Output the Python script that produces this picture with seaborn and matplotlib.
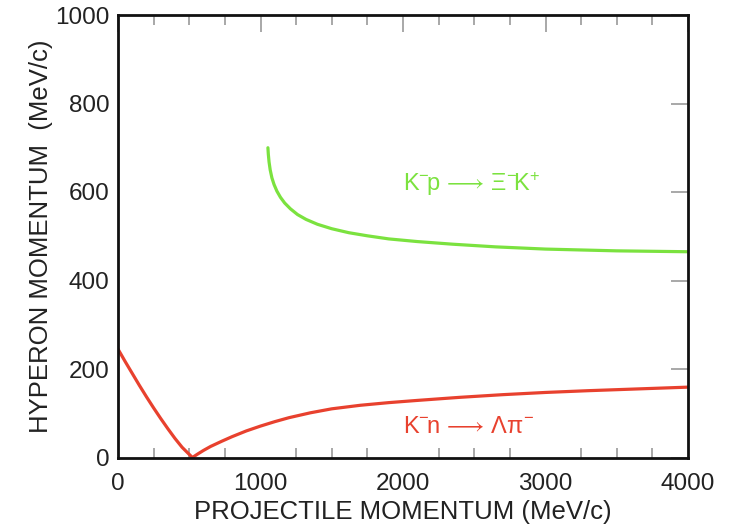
import matplotlib
matplotlib.use("Agg")
import matplotlib.pyplot as plt
from matplotlib.ticker import MultipleLocator
import seaborn as sns
import pandas as pd

# Projectile momentum (MeV/c) and minimum hyperon momentum (MeV/c) for each reaction
lambda_p = [0, 50, 100, 150, 200, 250, 300, 350, 400, 450, 522,
            560, 600, 650, 730, 800, 900, 1000, 1100, 1200, 1350, 1500,
            1700, 1900, 2100, 2400, 2700, 3000, 3300, 3650, 4000]
lambda_y = [245, 217, 190, 163, 137, 112, 88, 65, 43, 23, 0,
            8, 16, 25, 37, 47, 60, 71, 81, 90, 101, 110,
            118, 124, 129, 136, 142, 147, 151, 155, 159]

xi_p = [1052, 1055, 1060, 1068, 1080, 1095, 1115, 1140, 1170, 1210, 1260,
        1320, 1400, 1500, 1620, 1750, 1900, 2100, 2350, 2650, 3000, 3500, 4000]
xi_y = [700, 685, 668, 650, 632, 617, 602, 588, 575, 562, 549,
        538, 527, 517, 508, 501, 494, 488, 482, 476, 471, 467, 465]

reactions = ["lambda", "xi"]
reaction_labels = [r"K$^{-}\!$n$\,\longrightarrow\,$$\Lambda\pi^{-}$",
                   r"K$^{-}\!$p$\,\longrightarrow\,$$\Xi^{-}\!$K$^{+}$"]
colors = ["#E8412E", "#7BE23F"]

x_ticks = [0, 1000, 2000, 3000, 4000]
y_ticks = [0, 200, 400, 600, 800, 1000]

sns.set_theme(style="white")
plt.rcParams["font.family"] = ["Liberation Sans", "DejaVu Sans"]
plt.rcParams["mathtext.fontset"] = "custom"
plt.rcParams["mathtext.rm"] = "Liberation Sans"
plt.rcParams["mathtext.it"] = "Liberation Sans"
plt.rcParams["mathtext.default"] = "regular"
plt.rcParams["mathtext.fallback"] = "stixsans"

df = pd.concat([
    pd.DataFrame({"p": lambda_p, "y": lambda_y, "reaction": reactions[0]}),
    pd.DataFrame({"p": xi_p, "y": xi_y, "reaction": reactions[1]}),
])

fig = plt.figure(figsize=(7.29, 5.31), dpi=100)
ax = fig.add_axes([118 / 729, 1 - 457.5 / 531, 570 / 729, 442.5 / 531])

sns.lineplot(data=df, x="p", y="y", hue="reaction", hue_order=reactions,
             palette=colors, linewidth=2.3, legend=False, ax=ax,
             sort=False, estimator=None)

ax.set_xlim(0, 4000)
ax.set_ylim(0, 1000)
ax.set_xticks(x_ticks)
ax.set_yticks(y_ticks)
ax.xaxis.set_minor_locator(MultipleLocator(250))

text_color = "#222222"
ax.tick_params(axis="both", which="major", direction="in", length=12, width=1.2,
               color="#9a9a9a", labelsize=17.5, labelcolor=text_color,
               top=True, right=True)
ax.tick_params(axis="x", which="major", pad=11)
ax.tick_params(axis="y", which="major", pad=6)
ax.tick_params(axis="x", which="minor", direction="in", length=7, width=1.2,
               color="#9a9a9a", top=True, bottom=True)

for side in ["left", "right", "top", "bottom"]:
    ax.spines[side].set_visible(True)
    ax.spines[side].set_color("#111111")
    ax.spines[side].set_linewidth(2.0)

ax.set_xlabel("PROJECTILE MOMENTUM (MeV/c)", fontsize=18.5, color=text_color, labelpad=4)
ax.set_ylabel("HYPERON MOMENTUM  (MeV/c)", fontsize=18.5, color=text_color, labelpad=2)

ax.text(2000, 618, reaction_labels[1], color=colors[1], fontsize=17, va="center", ha="left")
ax.text(2000, 68, reaction_labels[0], color=colors[0], fontsize=17, va="center", ha="left")

fig.savefig("out.png", dpi=100, facecolor="white")
